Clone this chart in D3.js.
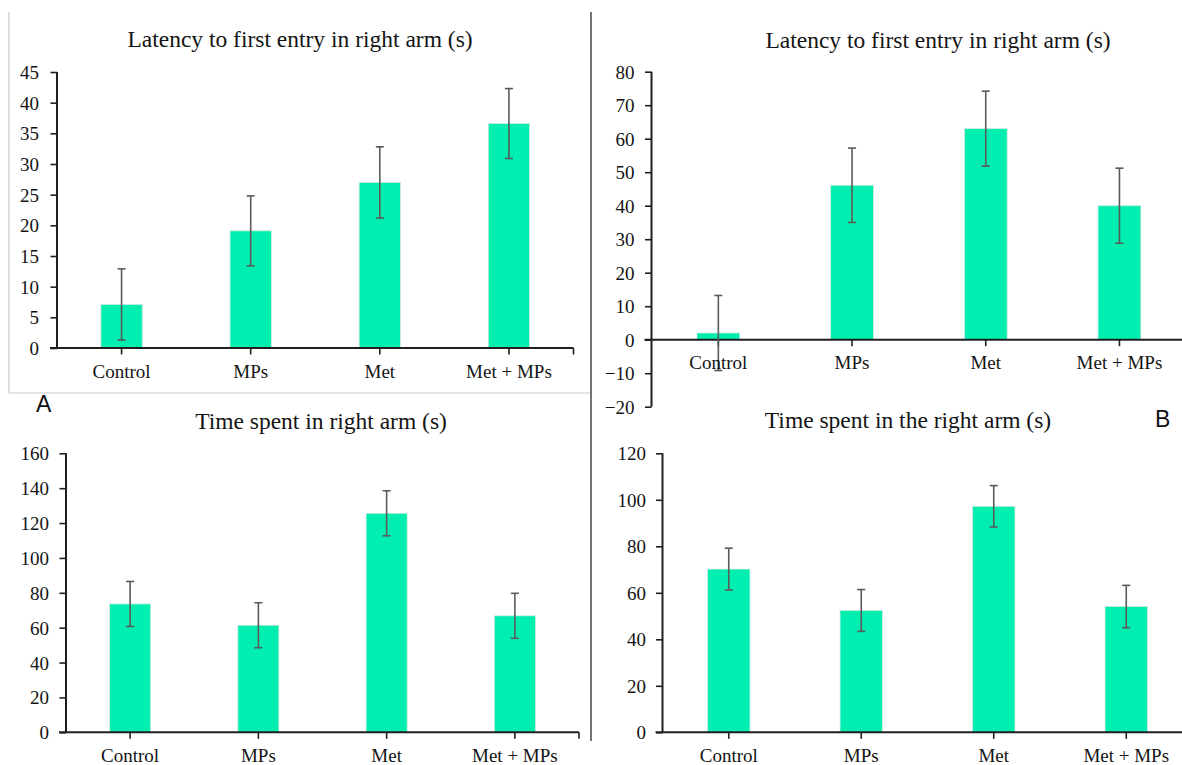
<!DOCTYPE html>
<html>
<head>
<meta charset="utf-8">
<script src="https://cdn.jsdelivr.net/npm/d3@7"></script>
<style>
  html, body { margin: 0; padding: 0; background: #fff; }
  svg { display: block; }
  .serif { font-family: "Liberation Serif", "Times New Roman", serif; fill: #141414; }
  .sans { font-family: "Liberation Sans", Arial, sans-serif; fill: #111; }
</style>
</head>
<body>
<svg id="chart" width="1182" height="765"></svg>
<script>
// Groups shown on every panel
const groups = ["Control", "MPs", "Met", "Met + MPs"];

// Panel A (top): latency to first entry in right arm, mean and error
const latencyA = [7.1, 19.1, 27.0, 36.6];
const latencyAErr = [5.8, 5.7, 5.8, 5.7];
const latencyATicks = [0, 5, 10, 15, 20, 25, 30, 35, 40, 45];

// Panel B (top): latency to first entry in right arm, mean and error
const latencyB = [2.0, 46.1, 63.0, 40.0];
const latencyBErr = [11.2, 11.1, 11.2, 11.2];
const latencyBTicks = [-20, -10, 0, 10, 20, 30, 40, 50, 60, 70, 80];

// Panel A (bottom): time spent in right arm, mean and error
const timeA = [73.6, 61.4, 125.6, 66.8];
const timeAErr = [12.9, 12.9, 12.9, 12.9];
const timeATicks = [0, 20, 40, 60, 80, 100, 120, 140, 160];

// Panel B (bottom): time spent in the right arm, mean and error
const timeB = [70.2, 52.4, 97.2, 54.1];
const timeBErr = [9.0, 9.0, 8.9, 9.1];
const timeBTicks = [0, 20, 40, 60, 80, 100, 120];

const titles = [
  "Latency to first entry in right arm (s)",
  "Latency to first entry in right arm (s)",
  "Time spent in right arm (s)",
  "Time spent in the right arm (s)"
];

const svg = d3.select("#chart");

const BAR = "#00efb0";
const AXIS = "#1f1f1f";
const ERR = "#5a5a5a";

// Panel frame lines
svg.append("line").attr("x1", 9).attr("x2", 9).attr("y1", 12).attr("y2", 393)
  .attr("stroke", "#c9c9c9").attr("stroke-width", 1.2);
svg.append("line").attr("x1", 9).attr("x2", 591).attr("y1", 393).attr("y2", 393)
  .attr("stroke", "#c9c9c9").attr("stroke-width", 1.2);
svg.append("line").attr("x1", 591).attr("x2", 591).attr("y1", 12).attr("y2", 741)
  .attr("stroke", "#2a2a2a").attr("stroke-width", 1.3);

const panels = [
  { title: titles[0], values: latencyA, errs: latencyAErr, ticks: latencyATicks,
    domain: [0, 45], yRange: [348, 72], xRange: [57, 573.5], titleX: 300, titleY: 47,
    labelDy: 30, labelOff: 18, endTick: true },
  { title: titles[1], values: latencyB, errs: latencyBErr, ticks: latencyBTicks,
    domain: [-20, 80], yRange: [406.7, 71.7], xRange: [651.5, 1186.3], titleX: 938, titleY: 48,
    labelDy: 29, labelOff: 17, endTick: false },
  { title: titles[2], values: timeA, errs: timeAErr, ticks: timeATicks,
    domain: [0, 160], yRange: [732.3, 453.3], xRange: [66, 579], titleX: 321, titleY: 429,
    labelDy: 30, labelOff: 17, endTick: true },
  { title: titles[3], values: timeB, errs: timeBErr, ticks: timeBTicks,
    domain: [0, 120], yRange: [732.3, 453.3], xRange: [662.5, 1192.5], titleX: 908, titleY: 428,
    labelDy: 30, labelOff: 16.5, endTick: false }
];

panels.forEach(p => {
  const g = svg.append("g");
  const y = d3.scaleLinear().domain(p.domain).range(p.yRange);
  const x = d3.scaleBand().domain(groups).range(p.xRange).padding(0);
  const bw = x.bandwidth() * 0.32;
  const x0 = p.xRange[0];
  const y0 = y(0);

  // Title
  g.append("text").attr("class", "serif")
    .attr("x", p.titleX).attr("y", p.titleY)
    .attr("text-anchor", "middle").style("font-size", "23.5px")
    .text(p.title);

  // Bars
  g.selectAll("rect.bar").data(p.values).join("rect")
    .attr("class", "bar")
    .attr("x", (d, i) => x(groups[i]) + x.bandwidth() / 2 - bw / 2)
    .attr("width", bw)
    .attr("y", d => Math.min(y(d), y0))
    .attr("height", d => Math.abs(y0 - y(d)))
    .attr("fill", BAR)
    .attr("stroke", "#cfe9df").attr("stroke-width", 0.8);

  // Y axis
  const yAxis = d3.axisLeft(y).tickValues(p.ticks).tickSize(6.5).tickPadding(0).tickFormat(d3.format("d"));
  const ya = g.append("g").attr("transform", `translate(${x0},0)`).call(yAxis);
  ya.attr("font-family", null).attr("font-size", null);
  ya.select(".domain").remove();
  ya.selectAll(".tick line").attr("stroke", AXIS).attr("stroke-width", 1.6);
  ya.selectAll(".tick text").attr("class", "serif")
    .attr("x", -p.labelOff).attr("dy", "0.34em")
    .style("font-size", "19px").attr("fill", "#141414");
  g.append("line").attr("x1", x0).attr("x2", x0)
    .attr("y1", p.yRange[1]).attr("y2", p.yRange[0])
    .attr("stroke", AXIS).attr("stroke-width", 2);

  // X axis at zero
  g.append("line").attr("x1", x0 - 7).attr("x2", p.xRange[1])
    .attr("y1", y0).attr("y2", y0)
    .attr("stroke", AXIS).attr("stroke-width", 2);
  const xt = groups.map(c => x(c) + x.bandwidth() / 2);
  if (p.endTick) xt.push(p.xRange[1]);
  g.selectAll("line.xtick").data(xt).join("line")
    .attr("class", "xtick")
    .attr("x1", d => d).attr("x2", d => d)
    .attr("y1", y0).attr("y2", y0 + 6.5)
    .attr("stroke", AXIS).attr("stroke-width", 1.6);

  // Error bars
  const eb = g.selectAll("g.err").data(p.values).join("g").attr("class", "err");
  eb.append("line")
    .attr("x1", (d, i) => x(groups[i]) + x.bandwidth() / 2)
    .attr("x2", (d, i) => x(groups[i]) + x.bandwidth() / 2)
    .attr("y1", (d, i) => y(d + p.errs[i]))
    .attr("y2", (d, i) => y(d - p.errs[i]))
    .attr("stroke", ERR).attr("stroke-width", 1.6);
  [1, -1].forEach(s => {
    eb.append("line")
      .attr("x1", (d, i) => x(groups[i]) + x.bandwidth() / 2 - 4)
      .attr("x2", (d, i) => x(groups[i]) + x.bandwidth() / 2 + 4)
      .attr("y1", (d, i) => y(d + s * p.errs[i]))
      .attr("y2", (d, i) => y(d + s * p.errs[i]))
      .attr("stroke", ERR).attr("stroke-width", 1.6);
  });

  // Category labels
  g.selectAll("text.cat").data(groups).join("text")
    .attr("class", "serif cat")
    .attr("x", d => x(d) + x.bandwidth() / 2)
    .attr("y", y0 + p.labelDy)
    .attr("text-anchor", "middle").style("font-size", "19px")
    .text(d => d);
});

// Panel letters
svg.append("text").attr("class", "sans").attr("x", 36).attr("y", 412)
  .style("font-size", "23px").text("A");
svg.append("text").attr("class", "sans").attr("x", 1155).attr("y", 427)
  .style("font-size", "23px").text("B");
</script>
</body>
</html>
